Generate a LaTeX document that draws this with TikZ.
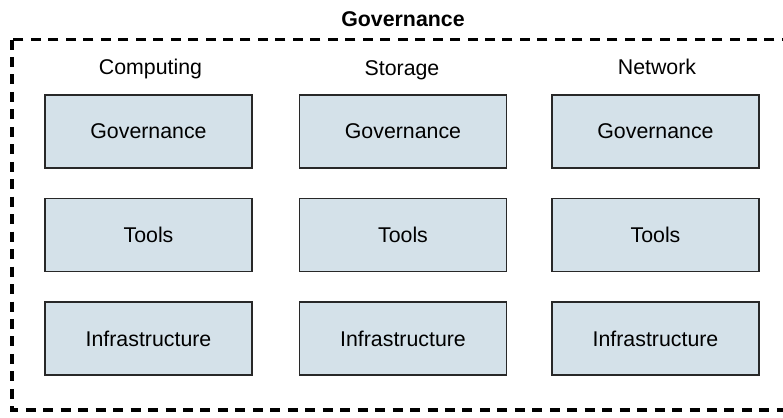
\documentclass[tikz,border=0pt]{standalone}
\usepackage{fontspec}
\setmainfont{Liberation Sans}
\definecolor{boxfill}{RGB}{212,225,233}
\definecolor{boxline}{RGB}{40,40,40}
\begin{document}
\begin{tikzpicture}[x=0.75pt,y=-0.75pt,
  comp/.style={draw=boxline,line width=1.1pt,fill=boxfill,minimum width=155.25pt,minimum height=54.75pt,inner sep=0pt,font=\fontsize{16}{19}\selectfont},
  head/.style={inner sep=0pt,anchor=base,font=\fontsize{16}{19}\selectfont},
  outer/.style={draw=black,line width=2.3pt,dash pattern=on 7.5pt off 5.6pt}]
\useasboundingbox (0,0) rectangle (783,418);
\clip (0,0) rectangle (783,418);
\node[head,font=\fontsize{16}{19}\selectfont\bfseries] (title) at (403,26) {Governance};
\coordinate (ga) at (12,39.5);
\coordinate (gb) at (800,410);
\draw[outer] (ga) rectangle (gb);
\node[head] (hc) at (150.5,74) {Computing};
\node[head] (hs) at (402,75.5) {Storage};
\node[head] (hn) at (657,74.5) {Network};
\foreach \c/\x in {c/148.5,s/403,n/655.5}{
  \node[comp] (\c gov) at (\x,131.5) {Governance};
  \node[comp] (\c tool) at (\x,235) {Tools};
  \node[comp] (\c inf) at (\x,338.5) {Infrastructure};
}
\end{tikzpicture}
\end{document}
